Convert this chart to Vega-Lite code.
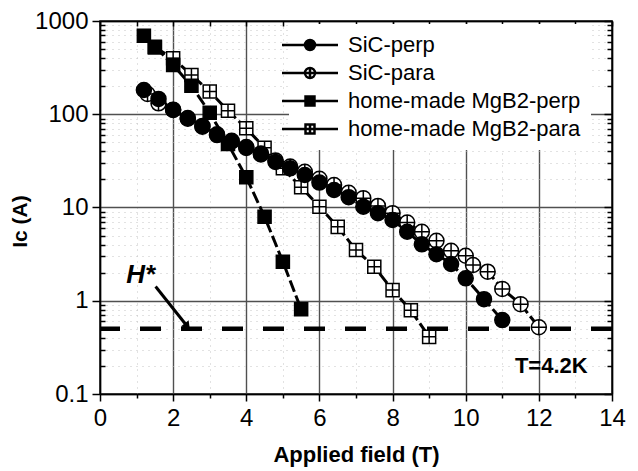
{
  "$schema": "https://vega.github.io/schema/vega-lite/v6.json",
  "autosize": {"type": "none"},
  "width": 512,
  "height": 373,
  "padding": {"left": 100, "top": 21, "right": 26, "bottom": 77},
  "background": "white",
  "config": {
    "font": "Liberation Sans",
    "view": {"stroke": "black", "strokeWidth": 1.5},
    "axis": {"domainColor": "black", "domainWidth": 1.5, "tickColor": "black", "tickWidth": 1.5, "labelColor": "black", "titleColor": "black", "labelFont": "Liberation Sans", "titleFont": "Liberation Sans"},
    "legend": {"symbolStrokeColor": "black", "symbolStrokeWidth": 2.5}
  },
  "datasets": {
    "curves": [
      {"series": "home-made MgB2-para", "x": 1.5, "y": 520},
      {"series": "home-made MgB2-para", "x": 2.0, "y": 398},
      {"series": "home-made MgB2-para", "x": 2.5, "y": 264},
      {"series": "home-made MgB2-para", "x": 3.0, "y": 175},
      {"series": "home-made MgB2-para", "x": 3.5, "y": 109},
      {"series": "home-made MgB2-para", "x": 4.0, "y": 70.7},
      {"series": "home-made MgB2-para", "x": 4.5, "y": 43.6},
      {"series": "home-made MgB2-para", "x": 5.0, "y": 26.3},
      {"series": "home-made MgB2-para", "x": 5.5, "y": 16.5},
      {"series": "home-made MgB2-para", "x": 6.0, "y": 10.2},
      {"series": "home-made MgB2-para", "x": 6.5, "y": 6.2},
      {"series": "home-made MgB2-para", "x": 7.0, "y": 3.5},
      {"series": "home-made MgB2-para", "x": 7.5, "y": 2.32},
      {"series": "home-made MgB2-para", "x": 8.0, "y": 1.3},
      {"series": "home-made MgB2-para", "x": 8.5, "y": 0.79},
      {"series": "home-made MgB2-para", "x": 9.0, "y": 0.41},
      {"series": "SiC-para", "x": 1.3, "y": 165},
      {"series": "SiC-para", "x": 1.6, "y": 131},
      {"series": "SiC-para", "x": 2.0, "y": 112},
      {"series": "SiC-para", "x": 2.4, "y": 91},
      {"series": "SiC-para", "x": 2.8, "y": 75},
      {"series": "SiC-para", "x": 3.2, "y": 61},
      {"series": "SiC-para", "x": 3.6, "y": 52},
      {"series": "SiC-para", "x": 4.0, "y": 44.5},
      {"series": "SiC-para", "x": 4.4, "y": 38},
      {"series": "SiC-para", "x": 4.8, "y": 32},
      {"series": "SiC-para", "x": 5.2, "y": 27.5},
      {"series": "SiC-para", "x": 5.6, "y": 24.2},
      {"series": "SiC-para", "x": 6.0, "y": 20.3},
      {"series": "SiC-para", "x": 6.4, "y": 17.4},
      {"series": "SiC-para", "x": 6.8, "y": 14.4},
      {"series": "SiC-para", "x": 7.2, "y": 12.6},
      {"series": "SiC-para", "x": 7.6, "y": 10.4},
      {"series": "SiC-para", "x": 8.0, "y": 8.7},
      {"series": "SiC-para", "x": 8.4, "y": 6.9},
      {"series": "SiC-para", "x": 8.8, "y": 5.5},
      {"series": "SiC-para", "x": 9.2, "y": 4.4},
      {"series": "SiC-para", "x": 9.6, "y": 3.44},
      {"series": "SiC-para", "x": 10.0, "y": 3.04},
      {"series": "SiC-para", "x": 10.2, "y": 2.42},
      {"series": "SiC-para", "x": 10.6, "y": 2.05},
      {"series": "SiC-para", "x": 11.0, "y": 1.34},
      {"series": "SiC-para", "x": 11.5, "y": 0.92},
      {"series": "SiC-para", "x": 12.0, "y": 0.52},
      {"series": "home-made MgB2-perp", "x": 1.2, "y": 695},
      {"series": "home-made MgB2-perp", "x": 1.5, "y": 530},
      {"series": "home-made MgB2-perp", "x": 2.0, "y": 337},
      {"series": "home-made MgB2-perp", "x": 2.5, "y": 202},
      {"series": "home-made MgB2-perp", "x": 3.0, "y": 104},
      {"series": "home-made MgB2-perp", "x": 3.5, "y": 48},
      {"series": "home-made MgB2-perp", "x": 4.0, "y": 21.1},
      {"series": "home-made MgB2-perp", "x": 4.5, "y": 7.96},
      {"series": "home-made MgB2-perp", "x": 5.0, "y": 2.62},
      {"series": "home-made MgB2-perp", "x": 5.5, "y": 0.81},
      {"series": "SiC-perp", "x": 1.2, "y": 182},
      {"series": "SiC-perp", "x": 1.6, "y": 146},
      {"series": "SiC-perp", "x": 2.0, "y": 111},
      {"series": "SiC-perp", "x": 2.4, "y": 89.6},
      {"series": "SiC-perp", "x": 2.8, "y": 73.5},
      {"series": "SiC-perp", "x": 3.2, "y": 59.8},
      {"series": "SiC-perp", "x": 3.6, "y": 51},
      {"series": "SiC-perp", "x": 4.0, "y": 43.5},
      {"series": "SiC-perp", "x": 4.4, "y": 37},
      {"series": "SiC-perp", "x": 4.8, "y": 30.8},
      {"series": "SiC-perp", "x": 5.2, "y": 26.3},
      {"series": "SiC-perp", "x": 5.6, "y": 22.3},
      {"series": "SiC-perp", "x": 6.0, "y": 18.5},
      {"series": "SiC-perp", "x": 6.4, "y": 15.4},
      {"series": "SiC-perp", "x": 6.8, "y": 12.9},
      {"series": "SiC-perp", "x": 7.2, "y": 10.2},
      {"series": "SiC-perp", "x": 7.6, "y": 8.7},
      {"series": "SiC-perp", "x": 8.0, "y": 7.35},
      {"series": "SiC-perp", "x": 8.4, "y": 5.5},
      {"series": "SiC-perp", "x": 8.8, "y": 4.03},
      {"series": "SiC-perp", "x": 9.2, "y": 3.15},
      {"series": "SiC-perp", "x": 9.6, "y": 2.48},
      {"series": "SiC-perp", "x": 10.0, "y": 1.74},
      {"series": "SiC-perp", "x": 10.5, "y": 1.04},
      {"series": "SiC-perp", "x": 11.0, "y": 0.62}
    ],
    "hline": [{"y": 0.5}],
    "hstar": [{"x": 1.11, "y": 1.89, "text": "H*"}],
    "temp": [{"x": 12.34, "y": 0.2, "text": "T=4.2K"}],
    "arrow": [{"x": 1.52, "y": 1.42, "x2": 2.39, "y2": 0.53}]
  },
  "resolve": {
    "axis": {"x": "independent", "y": "independent"}
  },
  "layer": [
    {
      "data": {"name": "hline"},
      "mark": {"type": "rule", "color": "black", "strokeWidth": 4.5, "strokeDash": [21, 20]},
      "encoding": {
        "y": {"field": "y", "type": "quantitative", "scale": {"type": "log", "domain": [0.1, 1000], "nice": false}, "axis": null}
      }
    },
    {
      "data": {"name": "curves"},
      "mark": {"type": "line", "color": "black", "strokeWidth": 3, "strokeDash": [12, 4]},
      "encoding": {
        "x": {
          "field": "x", "type": "quantitative",
          "scale": {"domain": [0, 14], "nice": false, "zero": false},
          "axis": {
            "orient": "bottom",
            "values": [0, 1, 2, 3, 4, 5, 6, 7, 8, 9, 10, 11, 12, 13, 14],
            "labelExpr": "datum.value % 2 == 0 ? datum.label : ''",
            "labelFontSize": 24, "labelPadding": 5, "labelOverlap": false, "labelFlush": false,
            "tickSize": {"condition": {"test": "datum.value % 2 == 0", "value": 7}, "value": 4},
            "grid": true,
            "gridColor": {"condition": {"test": "datum.value % 2 == 0", "value": "#505050"}, "value": "#c4c4c4"},
            "gridDash": {"condition": {"test": "datum.value % 2 == 0", "value": []}, "value": [1, 5]},
            "gridWidth": {"condition": {"test": "datum.value % 2 == 0", "value": 1.4}, "value": 1},
            "title": "Applied field (T)", "titleFontSize": 22, "titleFontWeight": "bold",
            "titleX": 256, "titleY": 60, "titleBaseline": "middle", "titleAnchor": "middle"
          }
        },
        "y": {
          "field": "y", "type": "quantitative",
          "scale": {"type": "log", "domain": [0.1, 1000], "nice": false},
          "axis": {
            "orient": "left",
            "values": [0.1, 0.2, 0.3, 0.4, 0.5, 0.6, 0.7, 0.8, 0.9, 1, 2, 3, 4, 5, 6, 7, 8, 9, 10, 20, 30, 40, 50, 60, 70, 80, 90, 100, 200, 300, 400, 500, 600, 700, 800, 900, 1000],
            "format": "~g",
            "labelExpr": "indexof([0.1, 1, 10, 100, 1000], datum.value) >= 0 ? datum.label : ''",
            "labelFontSize": 24, "labelPadding": 4, "labelOverlap": false, "labelFlush": false,
            "tickSize": {"condition": {"test": "indexof([0.1, 1, 10, 100, 1000], datum.value) >= 0", "value": 8}, "value": -5},
            "grid": true,
            "gridColor": {"condition": {"test": "indexof([0.1, 1, 10, 100, 1000], datum.value) >= 0", "value": "#505050"}, "value": "#c4c4c4"},
            "gridDash": {"condition": {"test": "indexof([0.1, 1, 10, 100, 1000], datum.value) >= 0", "value": []}, "value": [1, 5]},
            "gridWidth": {"condition": {"test": "indexof([0.1, 1, 10, 100, 1000], datum.value) >= 0", "value": 1.4}, "value": 1},
            "title": "Ic (A)", "titleFontSize": 21, "titleFontWeight": "bold",
            "titleX": -80, "titleY": 200, "titleBaseline": "middle", "titleAngle": -90, "titleAnchor": "middle"
          }
        },
        "detail": {"field": "series", "type": "nominal"}
      }
    },
    {
      "data": {"name": "curves"},
      "transform": [{"filter": "datum.series == 'home-made MgB2-para'"}],
      "mark": {"type": "point", "shape": "M-0.87,-0.87H0.87V0.87H-0.87ZM-0.87,0H0.87M0,-0.87V0.87", "size": 225, "fill": "white", "stroke": "black", "strokeWidth": 1.5, "opacity": 1, "filled": true},
      "encoding": {
        "x": {
          "field": "x", "type": "quantitative",
          "scale": {"domain": [0, 14], "nice": false, "zero": false},
          "axis": {"orient": "top", "values": [0, 1, 2, 3, 4, 5, 6, 7, 8, 9, 10, 11, 12, 13, 14], "labels": false, "grid": false, "title": null, "tickSize": -5}
        },
        "y": {
          "field": "y", "type": "quantitative",
          "scale": {"type": "log", "domain": [0.1, 1000], "nice": false},
          "axis": {
            "orient": "right", "labels": false, "grid": false, "title": null,
            "values": [0.1, 0.2, 0.3, 0.4, 0.5, 0.6, 0.7, 0.8, 0.9, 1, 2, 3, 4, 5, 6, 7, 8, 9, 10, 20, 30, 40, 50, 60, 70, 80, 90, 100, 200, 300, 400, 500, 600, 700, 800, 900, 1000],
            "tickSize": {"condition": {"test": "indexof([0.1, 1, 10, 100, 1000], datum.value) >= 0", "value": -8}, "value": -5}
          }
        }
      }
    },
    {
      "data": {"name": "curves"},
      "transform": [{"filter": "datum.series == 'SiC-para'"}],
      "mark": {"type": "point", "shape": "M-1,0A1,1,0,1,1,1,0A1,1,0,1,1,-1,0ZM-1,0H1M0,-1V1", "size": 225, "fill": "white", "stroke": "black", "strokeWidth": 1.5, "opacity": 1, "filled": true},
      "encoding": {
        "x": {"field": "x", "type": "quantitative", "scale": {"domain": [0, 14], "nice": false, "zero": false}, "axis": null},
        "y": {"field": "y", "type": "quantitative", "scale": {"type": "log", "domain": [0.1, 1000], "nice": false}, "axis": null}
      }
    },
    {
      "data": {"name": "curves"},
      "transform": [{"filter": "datum.series == 'home-made MgB2-perp'"}],
      "mark": {"type": "point", "shape": "M-0.87,-0.87H0.87V0.87H-0.87Z", "size": 225, "fill": "black", "stroke": "black", "strokeWidth": 1.5, "opacity": 1, "filled": true},
      "encoding": {
        "x": {"field": "x", "type": "quantitative", "scale": {"domain": [0, 14], "nice": false, "zero": false}, "axis": null},
        "y": {"field": "y", "type": "quantitative", "scale": {"type": "log", "domain": [0.1, 1000], "nice": false}, "axis": null}
      }
    },
    {
      "data": {"name": "curves"},
      "transform": [{"filter": "datum.series == 'SiC-perp'"}],
      "mark": {"type": "point", "shape": "circle", "size": 225, "fill": "black", "stroke": "black", "strokeWidth": 1.5, "opacity": 1, "filled": true},
      "encoding": {
        "x": {"field": "x", "type": "quantitative", "scale": {"domain": [0, 14], "nice": false, "zero": false}, "axis": null},
        "y": {"field": "y", "type": "quantitative", "scale": {"type": "log", "domain": [0.1, 1000], "nice": false}, "axis": null}
      }
    },
    {
      "data": {"name": "curves"},
      "transform": [{"filter": "datum.x > 100"}],
      "mark": {"type": "point", "stroke": "black", "strokeWidth": 2.5, "opacity": 1, "filled": true},
      "encoding": {
        "shape": {
          "field": "series", "type": "nominal",
          "scale": {
            "domain": ["SiC-perp", "SiC-para", "home-made MgB2-perp", "home-made MgB2-para"],
            "range": [
              "M-4,0H-0.71M0.71,0H4M-0.71,0A0.71,0.71,0,1,1,0.71,0A0.71,0.71,0,1,1,-0.71,0Z",
              "M-4,0H4M-0.71,0A0.71,0.71,0,1,1,0.71,0A0.71,0.71,0,1,1,-0.71,0ZM0,-0.71V0.71",
              "M-4,0H-0.64M0.64,0H4M-0.64,-0.64H0.64V0.64H-0.64Z",
              "M-4,0H4M-0.64,-0.64H0.64V0.64H-0.64ZM0,-0.64V0.64"
            ]
          },
          "legend": {
            "title": null, "orient": "none", "legendX": 189, "legendY": 3, "padding": 10,
            "fillColor": "white", "strokeColor": null,
            "symbolSize": 196, "symbolStrokeWidth": 2.5, "symbolStrokeColor": "black", "symbolOpacity": 1,
            "labelFont": "Liberation Sans", "labelFontSize": 22, "labelColor": "black", "labelOffset": 27,
            "rowPadding": 6, "labelLimit": 400,
            "encode": {"symbols": {"update": {"stroke": {"value": "black"}, "strokeWidth": {"value": 2.5}, "opacity": {"value": 1}}}}
          }
        },
        "fill": {
          "field": "series", "type": "nominal",
          "scale": {
            "domain": ["SiC-perp", "SiC-para", "home-made MgB2-perp", "home-made MgB2-para"],
            "range": ["black", "white", "black", "white"]
          },
          "legend": {
            "title": null, "orient": "none", "legendX": 189, "legendY": 3, "padding": 10,
            "fillColor": "white", "strokeColor": null,
            "symbolSize": 196, "symbolStrokeWidth": 2.5, "symbolStrokeColor": "black", "symbolOpacity": 1,
            "labelFont": "Liberation Sans", "labelFontSize": 22, "labelColor": "black", "labelOffset": 27,
            "rowPadding": 6, "labelLimit": 400,
            "encode": {"symbols": {"update": {"stroke": {"value": "black"}, "strokeWidth": {"value": 2.5}, "opacity": {"value": 1}}}}
          }
        }
      }
    },
    {
      "data": {"name": "arrow"},
      "mark": {"type": "rule", "color": "black", "strokeWidth": 3},
      "encoding": {
        "x": {"field": "x", "type": "quantitative", "scale": {"domain": [0, 14], "nice": false, "zero": false}, "axis": null},
        "y": {"field": "y", "type": "quantitative", "scale": {"type": "log", "domain": [0.1, 1000], "nice": false}, "axis": null},
        "x2": {"field": "x2"},
        "y2": {"field": "y2"}
      }
    },
    {
      "data": {"name": "arrow"},
      "mark": {"type": "point", "shape": "triangle-up", "angle": 142, "size": 90, "filled": true, "color": "black", "opacity": 1},
      "encoding": {
        "x": {"field": "x2", "type": "quantitative", "scale": {"domain": [0, 14], "nice": false, "zero": false}, "axis": null},
        "y": {"field": "y2", "type": "quantitative", "scale": {"type": "log", "domain": [0.1, 1000], "nice": false}, "axis": null}
      }
    },
    {
      "data": {"name": "hstar"},
      "mark": {"type": "text", "font": "Liberation Sans", "fontSize": 26, "fontWeight": "bold", "fontStyle": "italic", "color": "black", "align": "center", "baseline": "middle"},
      "encoding": {
        "x": {"field": "x", "type": "quantitative", "scale": {"domain": [0, 14], "nice": false, "zero": false}, "axis": null},
        "y": {"field": "y", "type": "quantitative", "scale": {"type": "log", "domain": [0.1, 1000], "nice": false}, "axis": null},
        "text": {"field": "text"}
      }
    },
    {
      "data": {"name": "temp"},
      "mark": {"type": "text", "font": "Liberation Sans", "fontSize": 22, "fontWeight": "bold", "color": "black", "align": "center", "baseline": "middle"},
      "encoding": {
        "x": {"field": "x", "type": "quantitative", "scale": {"domain": [0, 14], "nice": false, "zero": false}, "axis": null},
        "y": {"field": "y", "type": "quantitative", "scale": {"type": "log", "domain": [0.1, 1000], "nice": false}, "axis": null},
        "text": {"field": "text"}
      }
    }
  ]
}
